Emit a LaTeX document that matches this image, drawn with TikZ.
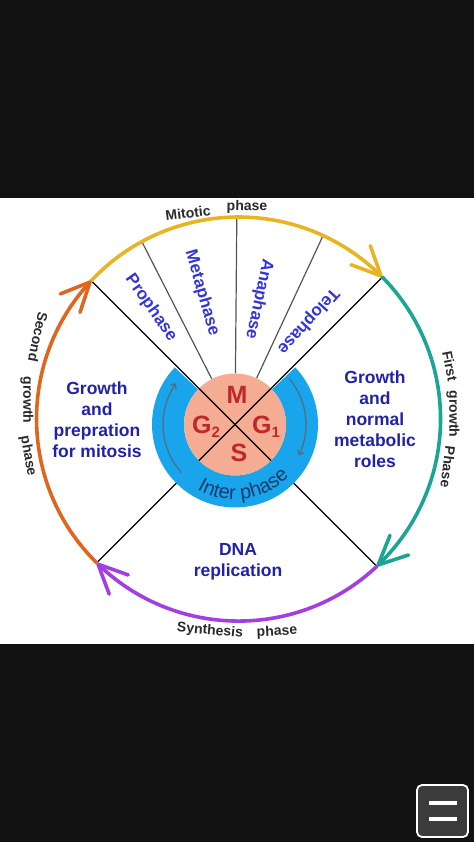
\documentclass[tikz,border=0pt]{standalone}
\usepackage{fontspec}
\setmainfont{Liberation Sans}
\usetikzlibrary{arrows.meta,bending,decorations.text,calc}
\definecolor{bgblack}{HTML}{111111}
\definecolor{arcyellow}{HTML}{E8B422}
\definecolor{arcteal}{HTML}{1AA595}
\definecolor{arcpurple}{HTML}{A23FE0}
\definecolor{arcorange}{HTML}{E0661F}
\definecolor{secblue}{HTML}{2222A8}
\definecolor{phblue}{HTML}{3434D8}
\definecolor{outgray}{HTML}{2A2A2A}
\definecolor{ringblue}{HTML}{19A5EB}
\definecolor{cellpink}{HTML}{F4AC93}
\definecolor{cellred}{HTML}{BF272D}
\definecolor{intercol}{HTML}{153C6C}
\definecolor{arrowgray}{HTML}{4F6E85}
\definecolor{divgray}{HTML}{555555}
\definecolor{btngray}{HTML}{3B3B3B}
\begin{document}
\begin{tikzpicture}[x=1pt,y=1pt,
  arcline/.style={line width=3.6pt, line cap=round, line join=round},
  barbtip/.style={-{Straight Barb[length=29pt,width=27pt,flex,round]}},
  seclabel/.style={font=\fontsize{17.5}{21}\selectfont\bfseries, text=secblue, align=center, inner sep=0pt},
  phlabel/.style={font=\fontsize{17}{17}\selectfont\bfseries, text=phblue, inner sep=0pt},
  outlabel/.style={font=\fontsize{14}{14}\selectfont\bfseries, text=outgray, inner sep=0pt},
  cellletter/.style={font=\fontsize{25}{25}\selectfont\bfseries, text=cellred, inner sep=0pt},
  divline/.style={draw=divgray, line width=1.2pt},
  blkline/.style={draw=black, line width=1.2pt},
  ringarrow/.style={draw=arrowgray, line width=1.3pt, -{Straight Barb[length=4pt,width=7pt,flex]}}
]
% background
\fill[bgblack] (0,0) rectangle (474,842);
\fill[white] (0,198) rectangle (474,643.5);
\useasboundingbox (0,0) rectangle (474,842);

% centres and corners
\coordinate (Ci) at (235,417.5);
\coordinate (Co) at (238.5,423);
\coordinate (TL) at ($(Ci)+(135:203.3)$);
\coordinate (TR) at ($(Ci)+(45:208.4)$);
\coordinate (BL) at ($(Ci)+(225:195.6)$);
\coordinate (BR) at ($(Ci)+(315:200.6)$);

% mitotic sub-division lines
\coordinate (d1a) at ($(Ci)+(117:51)$);  \coordinate (d1b) at ($(Ci)+(117:204)$);
\coordinate (d2a) at ($(Ci)+(89.5:51)$); \coordinate (d2b) at ($(Ci)+(89.5:206)$);
\coordinate (d3a) at ($(Ci)+(65:51)$);   \coordinate (d3b) at ($(Ci)+(65:207)$);
\draw[divline] (d1a) -- (d1b);
\draw[divline] (d2a) -- (d2b);
\draw[divline] (d3a) -- (d3b);

% main dividing lines
\draw[blkline] (TL) -- (BR);
\draw[blkline] (TR) -- (BL);

% blue interphase ring
\fill[ringblue] ($(Ci)+(136.5:83)$) arc[start angle=136.5, end angle=403.5, radius=83]
   -- ($(Ci)+(403.5:51)$) arc[start angle=403.5, end angle=136.5, radius=51] -- cycle;

% pink cell
\fill[cellpink] (Ci) circle[radius=51];
\coordinate (x1) at ($(Ci)+(135:51)$); \coordinate (x2) at ($(Ci)+(315:51)$);
\coordinate (x3) at ($(Ci)+(45:51)$);  \coordinate (x4) at ($(Ci)+(225:51)$);
\draw[blkline] (x1) -- (x2);
\draw[blkline] (x3) -- (x4);

% arrows inside ring
\coordinate (ra1) at ($(Ci)+(222:72)$);
\coordinate (ra2) at ($(Ci)+(40:71)$);
\draw[ringarrow] (ra1) arc[start angle=222, end angle=145, radius=72];
\draw[ringarrow] (ra2) arc[start angle=40, end angle=-26, radius=71];

% Inter phase curved text
\coordinate (ip) at ($(Ci)+(228:75)$);
\path[decorate, decoration={text along path, text align=center,
   text={|\fontsize{20}{20}\selectfont\color{intercol}|Inter phase}}]
   (ip) arc[start angle=228, end angle=328, radius=75];

% cell letters
\node[cellletter] (M)  at (237,447) {M};
\node[cellletter] (G2) at (206,415) {G\raisebox{-4pt}{\fontsize{15}{15}\selectfont 2}};
\node[cellletter] (G1) at (266,415) {G\raisebox{-4pt}{\fontsize{15}{15}\selectfont 1}};
\node[cellletter] (S)  at (239,389) {S};

% outer arcs with arrowheads
\draw[arcline, arcyellow, barbtip] (TL) arc[start angle=136.8, end angle=44.6, radius=202];
\draw[arcline, arcteal, barbtip] (TR) arc[start angle=44.6, end angle=-46.8, radius=202];
\draw[arcline, arcpurple, barbtip] (BR) arc[start angle=313.2, end angle=225.4, radius=202];
\draw[arcline, arcorange, barbtip] (BL) arc[start angle=225.4, end angle=136.8, radius=202];

% phase labels in mitotic sector
\node[phlabel, rotate=-55]  (pro)  at (151,534) {Prophase};
\node[phlabel, rotate=-74]  (meta) at (202,549) {Metaphase};
\node[phlabel, rotate=-102] (ana)  at (259,543) {Anaphase};
\node[phlabel, rotate=-132] (telo) at (308,521) {Telophase};

% sector descriptions
\node[seclabel] (g2txt) at (97,422) {Growth\\and\\prepration\\for mitosis};
\node[seclabel] (g1txt) at (375,423) {Growth\\and\\normal\\metabolic\\roles};
\node[seclabel] (stxt)  at (238,280) {DNA\\replication};

% outer curved labels
\node[outlabel, rotate=7]    (mit1) at (188,629) {Mitotic};
\node[outlabel, rotate=-1]   (mit2) at (247,635) {phase};
\node[outlabel, rotate=-102] (sec1) at (38,505) {Second};
\node[outlabel, rotate=-90]  (sec2) at (27,442) {growth};
\node[outlabel, rotate=-80]  (sec3) at (28,386) {phase};
\node[outlabel, rotate=-79]  (fir1) at (450,476) {First};
\node[outlabel, rotate=-90]  (fir2) at (453,428) {growth};
\node[outlabel, rotate=-97]  (fir3) at (448,375) {Phase};
\node[outlabel, rotate=-5]   (syn1) at (210,211) {Synthesis};
\node[outlabel, rotate=3]    (syn2) at (277,210) {phase};

% menu button
\draw[white, line width=1.8pt, fill=btngray, rounded corners=5pt] (417,57) rectangle (468,5);
\coordinate (b1a) at (429,39); \coordinate (b1b) at (457,39);
\coordinate (b2a) at (429,23); \coordinate (b2b) at (457,23);
\draw[white, line width=4pt] (b1a) -- (b1b);
\draw[white, line width=4pt] (b2a) -- (b2b);
\end{tikzpicture}
\end{document}
